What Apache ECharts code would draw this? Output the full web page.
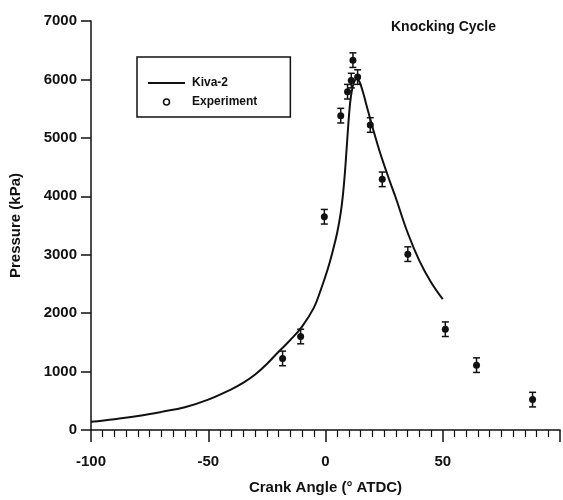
<!DOCTYPE html>
<html>
<head>
<meta charset="utf-8">
<script src="https://cdn.jsdelivr.net/npm/echarts@6/dist/echarts.min.js"></script>
<style>
  html, body { margin: 0; padding: 0; background: #fff; }
  #chart { width: 563px; height: 500px; }
</style>
</head>
<body>
<div id="chart"></div>
<script>
// KIVA-2 simulated cylinder pressure (crank angle in degrees ATDC, pressure in kPa)
const kivaAngle = [-100, -90, -80, -70, -60, -50, -40, -35, -30, -25, -20, -15, -10, -5, -2, 1, 3, 5, 6.5, 7.5, 8.5, 9.5, 10.5, 11.5, 12.5, 13.5, 14.5, 16, 18, 20, 23, 26, 28, 30, 35, 40, 45, 50];
const kivaPressure = [140, 185, 240, 310, 390, 520, 700, 810, 950, 1130, 1340, 1540, 1770, 2090, 2400, 2760, 3050, 3380, 3720, 4050, 4520, 5100, 5600, 5860, 5980, 6010, 5960, 5780, 5480, 5190, 4780, 4420, 4190, 3970, 3380, 2900, 2530, 2240];

// Measured pressure with error bars
const expAngle = [-18.3, -10.6, -0.5, 6.5, 9.4, 11.0, 11.7, 13.7, 19.1, 24.2, 35.1, 51.1, 64.4, 88.3];
const expPressure = [1225, 1600, 3650, 5380, 5790, 5980, 6330, 6040, 5220, 4290, 3010, 1725, 1110, 520];
const expError = 125;

const xTicks = [-100, -50, 0, 50];
const yTicks = [0, 1000, 2000, 3000, 4000, 5000, 6000, 7000];

const FONT = '"Liberation Sans", Arial, Helvetica, sans-serif';
const INK = '#111';

const chart = echarts.init(document.getElementById('chart'), null, { renderer: 'canvas' });

const kivaData = kivaAngle.map((a, i) => [a, kivaPressure[i]]);
const expData = expAngle.map((a, i) => [a, expPressure[i], expError]);

chart.setOption({
  animation: false,
  backgroundColor: '#fff',
  title: {
    text: 'Knocking Cycle',
    left: 391,
    top: 20,
    padding: 0,
    textStyle: { fontFamily: FONT, fontSize: 14, fontWeight: 'bold', color: INK }
  },
  legend: {
    orient: 'vertical',
    left: 137,
    top: 57,
    padding: [20, 33, 9, 11],
    itemWidth: 37,
    itemHeight: 6,
    itemGap: 7,
    borderColor: INK,
    borderWidth: 1.5,
    selectedMode: false,
    textStyle: { fontFamily: FONT, fontSize: 12, fontWeight: 'bold', color: INK, padding: [0, 0, 0, 2] },
    data: [
      { name: 'Kiva-2', icon: 'path://M0,0 L37,0 L37,2 L0,2 Z', itemStyle: { color: INK, borderWidth: 0 } },
      { name: 'Experiment', icon: 'circle', itemStyle: { color: '#fff', borderColor: INK, borderWidth: 1.5 } }
    ]
  },
  grid: { left: 91, right: -21, top: 21, bottom: 69, containLabel: false },
  xAxis: {
    type: 'value',
    min: -100,
    max: 100,
    interval: 50,
    name: 'Crank Angle (° ATDC)',
    nameLocation: 'middle',
    nameGap: 50,
    nameTextStyle: { fontFamily: FONT, fontSize: 15, fontWeight: 'bold', color: INK },
    axisLine: { show: true, onZero: false, lineStyle: { color: INK, width: 1.5 } },
    axisTick: { show: true, inside: false, length: 12, lineStyle: { color: INK, width: 1.5 } },
    minorTick: { show: true, splitNumber: 10, length: 7, lineStyle: { color: INK, width: 1.2 } },
    axisLabel: {
      margin: 24,
      fontFamily: FONT, fontSize: 15, fontWeight: 'bold', color: INK,
      formatter: v => (xTicks.indexOf(v) >= 0 ? String(v) : '')
    },
    splitLine: { show: false }
  },
  yAxis: {
    type: 'value',
    min: 0,
    max: 7000,
    interval: 1000,
    name: 'Pressure (kPa)',
    nameLocation: 'middle',
    nameGap: 68,
    nameTextStyle: { fontFamily: FONT, fontSize: 15, fontWeight: 'bold', color: INK },
    axisLine: { show: true, onZero: false, lineStyle: { color: INK, width: 1.5 } },
    axisTick: { show: true, inside: false, length: 10, lineStyle: { color: INK, width: 1.5 } },
    axisLabel: {
      margin: 14,
      fontFamily: FONT, fontSize: 15, fontWeight: 'bold', color: INK,
      formatter: v => (yTicks.indexOf(v) >= 0 ? String(v) : '')
    },
    splitLine: { show: false }
  },
  series: [
    {
      name: 'Kiva-2',
      type: 'line',
      data: kivaData,
      symbol: 'none',
      smooth: 0.4,
      lineStyle: { color: INK, width: 2 },
      itemStyle: { color: INK },
      z: 2
    },
    {
      name: 'Experiment',
      type: 'custom',
      data: expData,
      encode: { x: 0, y: 1 },
      itemStyle: { color: INK },
      z: 3,
      renderItem: function (params, api) {
        const x = api.value(0);
        const p = api.value(1);
        const e = api.value(2);
        const c = api.coord([x, p]);
        const hi = api.coord([x, p + e]);
        const lo = api.coord([x, p - e]);
        const cap = 3.5;
        const stroke = { stroke: INK, lineWidth: 1.5 };
        return {
          type: 'group',
          children: [
            { type: 'line', shape: { x1: c[0], y1: hi[1], x2: c[0], y2: lo[1] }, style: stroke },
            { type: 'line', shape: { x1: c[0] - cap, y1: hi[1], x2: c[0] + cap, y2: hi[1] }, style: stroke },
            { type: 'line', shape: { x1: c[0] - cap, y1: lo[1], x2: c[0] + cap, y2: lo[1] }, style: stroke },
            { type: 'circle', shape: { cx: c[0], cy: c[1], r: 3.5 }, style: { fill: INK } }
          ]
        };
      }
    }
  ]
});
</script>
</body>
</html>
